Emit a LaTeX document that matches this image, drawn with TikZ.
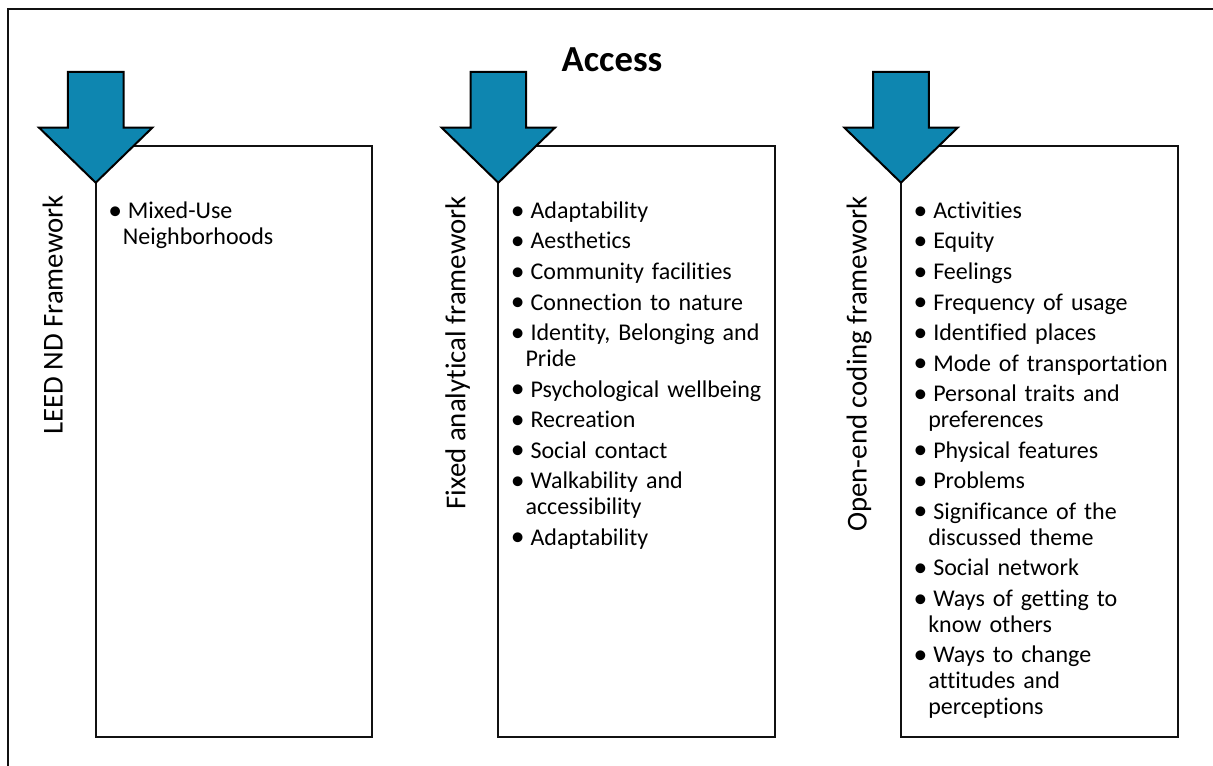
\documentclass[tikz,border=0pt]{standalone}
\usepackage{fontspec}
\setmainfont{Carlito}[Ligatures=NoCommon]
\usepackage{xcolor}
\usepackage{graphicx}
\usepackage{tikz}
\usetikzlibrary{positioning,calc}
\definecolor{ArrowTeal}{HTML}{0E86B0}
\definecolor{LineDark}{HTML}{111111}

% one bullet paragraph, explicit breaks with \newline
\newcommand{\bitem}[1]{\noindent\hangindent=12pt\hangafter=1
  \rule{0pt}{14pt}\makebox[15.75pt][l]{\hspace{1pt}\raisebox{-0.03em}{\scalebox{1.15}{\textbullet}}}#1\par\vspace{3.4pt}}

\begin{document}
\begin{tikzpicture}[x=0.75pt,y=-0.75pt,
          fwbox/.style={draw=LineDark, line width=1.5pt, anchor=north west,
            minimum width=207.4pt, minimum height=443.25pt, inner sep=0pt, outer sep=0pt},
          fwlabel/.style={rotate=90, anchor=base east, inner sep=0pt,
            font=\fontsize{21.6}{26}\selectfont, text=black},
          itemlist/.style={anchor=north west, inner sep=0pt, text width=210pt,
            font=\fontsize{18}{19.5}\selectfont, text=black},
          blk/.style={draw=black, line width=1.5pt, fill=ArrowTeal, line join=miter}]
        \useasboundingbox (0,0) rectangle (1213,766);
        \clip (0,0) rectangle (1213,766);
        \draw[LineDark, line width=2.2pt] (8,9) rectangle (1240,800);
        % framework boxes
        \node[fwbox] (leedbox) at (95.7,146) {};
        \node[fwbox] (fixedbox) at (498.3,146) {};
        \node[fwbox] (openbox) at (901,146) {};
        \coordinate (leedtip) at (95.7,182.7);
        \coordinate (fixedtip) at (498.3,182.7);
        \coordinate (opentip) at (901,182.7);
        % block arrows on top of the boxes
        \draw[blk] (67.9,72) -- (123.5,72) -- (123.5,127.7) -- (152.3,127.7)
          -- (leedtip) -- (39.1,127.7) -- (67.9,127.7) -- cycle;
        \draw[blk] (470.5,72) -- (526.1,72) -- (526.1,127.7) -- (554.9,127.7)
          -- (fixedtip) -- (441.7,127.7) -- (470.5,127.7) -- cycle;
        \draw[blk] (873.2,72) -- (928.8,72) -- (928.8,127.7) -- (957.6,127.7)
          -- (opentip) -- (844.4,127.7) -- (873.2,127.7) -- cycle;
        % vertical titles
        \node[fwlabel] (leedlabel) at (62.7,195) {LEED ND Framework};
        \node[fwlabel] (fixedlabel) at (465.3,196) {Fixed analytical framework};
        \node[fwlabel] (openlabel) at (866.7,196) {Open-end coding framework};
        % bullet lists
        \node[itemlist] (leeditems) at (106.7,199.5)
        {\bitem{Mixed-Use\newline Neighborhoods}};
        \node[itemlist] (fixeditems) at (509.3,199.5)
        {\bitem{Adaptability}\bitem{Aesthetics}\bitem{Community facilities}%
         \bitem{Connection to nature}\bitem{Identity, Belonging and\newline Pride}%
         \bitem{Psychological wellbeing}\bitem{Recreation}\bitem{Social contact}%
         \bitem{Walkability and\newline accessibility}\bitem{Adaptability}};
        \node[itemlist] (openitems) at (912,199.5)
        {\bitem{Activities}\bitem{Equity}\bitem{Feelings}\bitem{Frequency of usage}%
         \bitem{Identified places}\bitem{Mode of transportation}%
         \bitem{Personal traits and\newline preferences}\bitem{Physical features}%
         \bitem{Problems}\bitem{Significance of the\newline discussed theme}%
         \bitem{Social network}\bitem{Ways of getting to\newline know others}%
         \bitem{Ways to change\newline attitudes and\newline perceptions}};
        % heading
        \node[anchor=base, inner sep=0pt, font=\bfseries\fontsize{27.5}{33}\selectfont]
        (title) at (612,71.7) {Access};
      \end{tikzpicture}
\end{document}
